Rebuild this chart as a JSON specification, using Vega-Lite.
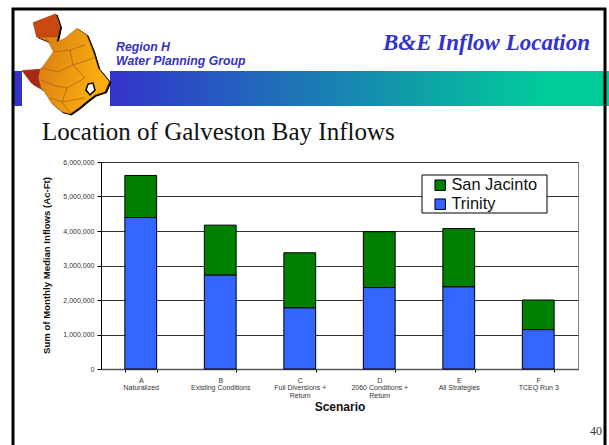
{
"$schema":"https://vega.github.io/schema/vega-lite/v6.json",
"width":477,"height":207,
"autosize":{"type":"none"},
"padding":{"left":101,"top":162,"right":31,"bottom":76},
"background":"white",
"config":{"view":{"stroke":"#808080","strokeWidth":1},"font":"Liberation Sans"},
"resolve":{"scale":{"x":"independent","y":"independent","color":"independent"}},
"layer":[
{"data":{"values":[{"slideX":110,"slideX2":609,"slideY":71,"slideY2":106}]},
 "mark":{"type":"rect","fill":{"x1":0,"y1":0,"x2":1,"y2":0,"gradient":"linear","stops":[{"offset":0,"color":"#3333cc"},{"offset":0.87,"color":"#00cc99"},{"offset":1,"color":"#00cc99"}]}},
 "encoding":{"x":{"field":"slideX","type":"quantitative","scale":{"domain":[101,578],"nice":false,"zero":false},"axis":null},"x2":{"field":"slideX2"},"y":{"field":"slideY","type":"quantitative","scale":{"domain":[369,162],"nice":false,"zero":false},"axis":null},"y2":{"field":"slideY2"}}},
{"data":{"values":[{"slideX":13,"slideX2":22,"slideY":71,"slideY2":106}]},
 "mark":{"type":"rect","fill":"#3333cc"},
 "encoding":{"x":{"field":"slideX","type":"quantitative","scale":{"domain":[101,578],"nice":false,"zero":false},"axis":null},"x2":{"field":"slideX2"},"y":{"field":"slideY","type":"quantitative","scale":{"domain":[369,162],"nice":false,"zero":false},"axis":null},"y2":{"field":"slideY2"}}},
{"data":{"values":[{"i":0,"slideX":13,"slideY":450},{"i":1,"slideX":13,"slideY":9},{"i":2,"slideX":605,"slideY":9},{"i":3,"slideX":605,"slideY":450}]},
 "mark":{"type":"line","stroke":"#000000","strokeWidth":3},
 "encoding":{"order":{"field":"i"},"x":{"field":"slideX","type":"quantitative","scale":{"domain":[101,578],"nice":false,"zero":false},"axis":null},"y":{"field":"slideY","type":"quantitative","scale":{"domain":[369,162],"nice":false,"zero":false},"axis":null}}},
{"data":{"name":"mapOutline","values":[{"i":0,"slideX":33.3,"slideY":22.7},{"i":1,"slideX":55.7,"slideY":14},{"i":2,"slideX":60,"slideY":26.7},{"i":3,"slideX":56.7,"slideY":41.7},{"i":4,"slideX":65,"slideY":38.3},{"i":5,"slideX":76.7,"slideY":28.3},{"i":6,"slideX":86.7,"slideY":35},{"i":7,"slideX":93.3,"slideY":51.7},{"i":8,"slideX":98.3,"slideY":68.3},{"i":9,"slideX":109.3,"slideY":81.7},{"i":10,"slideX":105,"slideY":91.7},{"i":11,"slideX":95,"slideY":95},{"i":12,"slideX":88.3,"slideY":100},{"i":13,"slideX":78.3,"slideY":108.3},{"i":14,"slideX":70,"slideY":114},{"i":15,"slideX":61.7,"slideY":111.7},{"i":16,"slideX":51.7,"slideY":103.3},{"i":17,"slideX":43.3,"slideY":90},{"i":18,"slideX":31.7,"slideY":83.3},{"i":19,"slideX":22.3,"slideY":70.7},{"i":20,"slideX":40,"slideY":69.3},{"i":21,"slideX":43.3,"slideY":66},{"i":22,"slideX":53.3,"slideY":51.7},{"i":23,"slideX":48.3,"slideY":41.7},{"i":24,"slideX":36.7,"slideY":36.7},{"i":25,"slideX":33.3,"slideY":22.7}]},
 "mark":{"type":"line","fill":"#000000","stroke":"#000000","strokeWidth":1,"xOffset":1.5,"yOffset":1},
 "encoding":{"order":{"field":"i"},"x":{"field":"slideX","type":"quantitative","scale":{"domain":[101,578],"nice":false,"zero":false},"axis":null},"y":{"field":"slideY","type":"quantitative","scale":{"domain":[369,162],"nice":false,"zero":false},"axis":null}}},
{"data":{"name":"mapOutline"},
 "mark":{"type":"line","strokeWidth":0.5,"stroke":"#a85c10","fill":{"x1":0,"y1":0,"x2":1,"y2":0.3,"gradient":"linear","stops":[{"offset":0,"color":"#c23a10"},{"offset":0.35,"color":"#dc8212"},{"offset":1,"color":"#fbb010"}]}},
 "encoding":{"order":{"field":"i"},"x":{"field":"slideX","type":"quantitative","scale":{"domain":[101,578],"nice":false,"zero":false},"axis":null},"y":{"field":"slideY","type":"quantitative","scale":{"domain":[369,162],"nice":false,"zero":false},"axis":null}}},
{"data":{"values":[{"i":0,"slideX":22.3,"slideY":70.7},{"i":1,"slideX":40,"slideY":69.3},{"i":2,"slideX":38,"slideY":78},{"i":3,"slideX":41,"slideY":88},{"i":4,"slideX":31.7,"slideY":83.3},{"i":5,"slideX":22.3,"slideY":70.7}]},
 "mark":{"type":"line","fill":"#a82818","stroke":"#a82818","strokeWidth":0.5},
 "encoding":{"order":{"field":"i"},"x":{"field":"slideX","type":"quantitative","scale":{"domain":[101,578],"nice":false,"zero":false},"axis":null},"y":{"field":"slideY","type":"quantitative","scale":{"domain":[369,162],"nice":false,"zero":false},"axis":null}}},
{"data":{"values":[{"i":0,"slideX":33.3,"slideY":22.7},{"i":1,"slideX":55.7,"slideY":14},{"i":2,"slideX":60,"slideY":26.7},{"i":3,"slideX":56.7,"slideY":37},{"i":4,"slideX":36.7,"slideY":36.7},{"i":5,"slideX":33.3,"slideY":22.7}]},
 "mark":{"type":"line","fill":"#c8480f","stroke":"#a03a10","strokeWidth":0.5},
 "encoding":{"order":{"field":"i"},"x":{"field":"slideX","type":"quantitative","scale":{"domain":[101,578],"nice":false,"zero":false},"axis":null},"y":{"field":"slideY","type":"quantitative","scale":{"domain":[369,162],"nice":false,"zero":false},"axis":null}}},
{"data":{"values":[{"k":"a","i":0,"slideX":53,"slideY":52},{"k":"a","i":1,"slideX":70,"slideY":50},{"k":"a","i":2,"slideX":85,"slideY":45},{"k":"b","i":0,"slideX":70,"slideY":50},{"k":"b","i":1,"slideX":73,"slideY":65},{"k":"b","i":2,"slideX":85,"slideY":78},{"k":"c","i":0,"slideX":42,"slideY":68},{"k":"c","i":1,"slideX":58,"slideY":72},{"k":"c","i":2,"slideX":73,"slideY":65},{"k":"c","i":3,"slideX":94,"slideY":58},{"k":"d","i":0,"slideX":41,"slideY":80},{"k":"d","i":1,"slideX":56,"slideY":86},{"k":"d","i":2,"slideX":67,"slideY":88},{"k":"d","i":3,"slideX":85,"slideY":78},{"k":"e","i":0,"slideX":67,"slideY":88},{"k":"e","i":1,"slideX":62,"slideY":102},{"k":"e","i":2,"slideX":70,"slideY":113},{"k":"f","i":0,"slideX":50,"slideY":98},{"k":"f","i":1,"slideX":62,"slideY":102},{"k":"f","i":2,"slideX":85,"slideY":98}]},
 "mark":{"type":"line","stroke":"#94570f","strokeWidth":0.6},
 "encoding":{"detail":{"field":"k"},"order":{"field":"i"},"x":{"field":"slideX","type":"quantitative","scale":{"domain":[101,578],"nice":false,"zero":false},"axis":null},"y":{"field":"slideY","type":"quantitative","scale":{"domain":[369,162],"nice":false,"zero":false},"axis":null}}},
{"data":{"values":[{"i":0,"slideX":88,"slideY":84},{"i":1,"slideX":93,"slideY":83},{"i":2,"slideX":95,"slideY":90},{"i":3,"slideX":90,"slideY":95},{"i":4,"slideX":86,"slideY":90},{"i":5,"slideX":88,"slideY":84}]},
 "mark":{"type":"line","fill":"#ffffff","stroke":"#000000","strokeWidth":1.5},
 "encoding":{"order":{"field":"i"},"x":{"field":"slideX","type":"quantitative","scale":{"domain":[101,578],"nice":false,"zero":false},"axis":null},"y":{"field":"slideY","type":"quantitative","scale":{"domain":[369,162],"nice":false,"zero":false},"axis":null}}},
{"data":{"values":[{"slideX":116,"slideY":51,"label":"Region H"},{"slideX":116,"slideY":65,"label":"Water Planning Group"}]},
 "mark":{"type":"text","align":"left","baseline":"alphabetic","font":"Liberation Sans","fontStyle":"italic","fontWeight":"bold","fontSize":12.3,"fill":"#3333bb"},
 "encoding":{"text":{"field":"label"},"x":{"field":"slideX","type":"quantitative","scale":{"domain":[101,578],"nice":false,"zero":false},"axis":null},"y":{"field":"slideY","type":"quantitative","scale":{"domain":[369,162],"nice":false,"zero":false},"axis":null}}},
{"data":{"values":[{"slideX":590,"slideY":50,"label":"B&E Inflow Location"}]},
 "mark":{"type":"text","align":"right","baseline":"alphabetic","font":"Liberation Serif","fontStyle":"italic","fontWeight":"bold","fontSize":23,"fill":"#3333cc"},
 "encoding":{"text":{"field":"label"},"x":{"field":"slideX","type":"quantitative","scale":{"domain":[101,578],"nice":false,"zero":false},"axis":null},"y":{"field":"slideY","type":"quantitative","scale":{"domain":[369,162],"nice":false,"zero":false},"axis":null}}},
{"data":{"values":[{"slideX":42,"slideY":140,"label":"Location of Galveston Bay Inflows"}]},
 "mark":{"type":"text","align":"left","baseline":"alphabetic","font":"Liberation Serif","fontSize":25,"fill":"#111111"},
 "encoding":{"text":{"field":"label"},"x":{"field":"slideX","type":"quantitative","scale":{"domain":[101,578],"nice":false,"zero":false},"axis":null},"y":{"field":"slideY","type":"quantitative","scale":{"domain":[369,162],"nice":false,"zero":false},"axis":null}}},
{"data":{"values":[{"slideX":602,"slideY":435,"label":"40"}]},
 "mark":{"type":"text","align":"right","baseline":"alphabetic","font":"Liberation Serif","fontSize":12,"fill":"#333333"},
 "encoding":{"text":{"field":"label"},"x":{"field":"slideX","type":"quantitative","scale":{"domain":[101,578],"nice":false,"zero":false},"axis":null},"y":{"field":"slideY","type":"quantitative","scale":{"domain":[369,162],"nice":false,"zero":false},"axis":null}}},
{"data":{"values":[{"slideX":422,"slideX2":547,"slideY":175,"slideY2":213}]},
 "mark":{"type":"rect","fill":"#ffffff","stroke":"#000000","strokeWidth":1},
 "encoding":{"x":{"field":"slideX","type":"quantitative","scale":{"domain":[101,578],"nice":false,"zero":false},"axis":null},"x2":{"field":"slideX2"},"y":{"field":"slideY","type":"quantitative","scale":{"domain":[369,162],"nice":false,"zero":false},"axis":null},"y2":{"field":"slideY2"}}},
{"data":{"values":[
{"scenario":"A|Naturalized","river":"San Jacinto","inflow":1220000},{"scenario":"A|Naturalized","river":"Trinity","inflow":4390000},
{"scenario":"B|Existing Conditions","river":"San Jacinto","inflow":1450000},{"scenario":"B|Existing Conditions","river":"Trinity","inflow":2720000},
{"scenario":"C|Full Diversions +|Return","river":"San Jacinto","inflow":1600000},{"scenario":"C|Full Diversions +|Return","river":"Trinity","inflow":1770000},
{"scenario":"D|2060 Conditions +|Return","river":"San Jacinto","inflow":1620000},{"scenario":"D|2060 Conditions +|Return","river":"Trinity","inflow":2360000},
{"scenario":"E|All Strategies","river":"San Jacinto","inflow":1690000},{"scenario":"E|All Strategies","river":"Trinity","inflow":2380000},
{"scenario":"F|TCEQ Run 3","river":"San Jacinto","inflow":860000},{"scenario":"F|TCEQ Run 3","river":"Trinity","inflow":1140000}]},
 "mark":{"type":"bar","stroke":"#000000","strokeWidth":1},
 "encoding":{
  "x":{"field":"scenario","type":"nominal","scale":{"paddingInner":0.6,"paddingOuter":0.3},
   "axis":{"title":"Scenario","titleFont":"Liberation Sans","titleFontSize":12,"titleFontWeight":"bold","titleColor":"#111111","titleY":41,"titleBaseline":"alphabetic","labelAngle":0,"labelExpr":"datum.value ? split(datum.value,'|') : ''","labelFontSize":7,"labelColor":"#333333","labelLineHeight":7.5,"labelPadding":4,"labelLimit":0,"labelOverlap":false,"tickBand":"extent","tickColor":"#000000","tickSize":3,"domainColor":"#555555","domainWidth":1.5,"grid":false}},
  "y":{"field":"inflow","type":"quantitative","stack":"zero","scale":{"domain":[0,6000000],"nice":false},
   "axis":{"title":"Sum of Monthly Median Inflows (Ac-Ft)","titleFont":"Liberation Sans","titleFontSize":9.6,"titleFontWeight":"bold","titleColor":"#111111","titleX":-50,"titleY":103,"values":[0,1000000,2000000,3000000,4000000,5000000,6000000],"format":",d","labelFontSize":7,"labelColor":"#333333","labelPadding":3,"tickSize":4,"tickColor":"#000000","domainColor":"#000000","grid":true,"gridColor":"#333333","gridWidth":1}},
  "color":{"field":"river","type":"nominal","scale":{"domain":["San Jacinto","Trinity"],"range":["#008000","#3366ff"]},
   "legend":{"title":null,"orient":"none","legendX":321,"legendY":13,"padding":2,"symbolType":"square","symbolSize":110,"symbolOffset":8,"symbolStrokeColor":"#000000","symbolStrokeWidth":1,"labelFont":"Liberation Sans","labelFontSize":16.4,"labelColor":"#111111","rowPadding":2,"labelOffset":3}},
  "order":{"field":"river","sort":"descending"}
 }}
]
}
